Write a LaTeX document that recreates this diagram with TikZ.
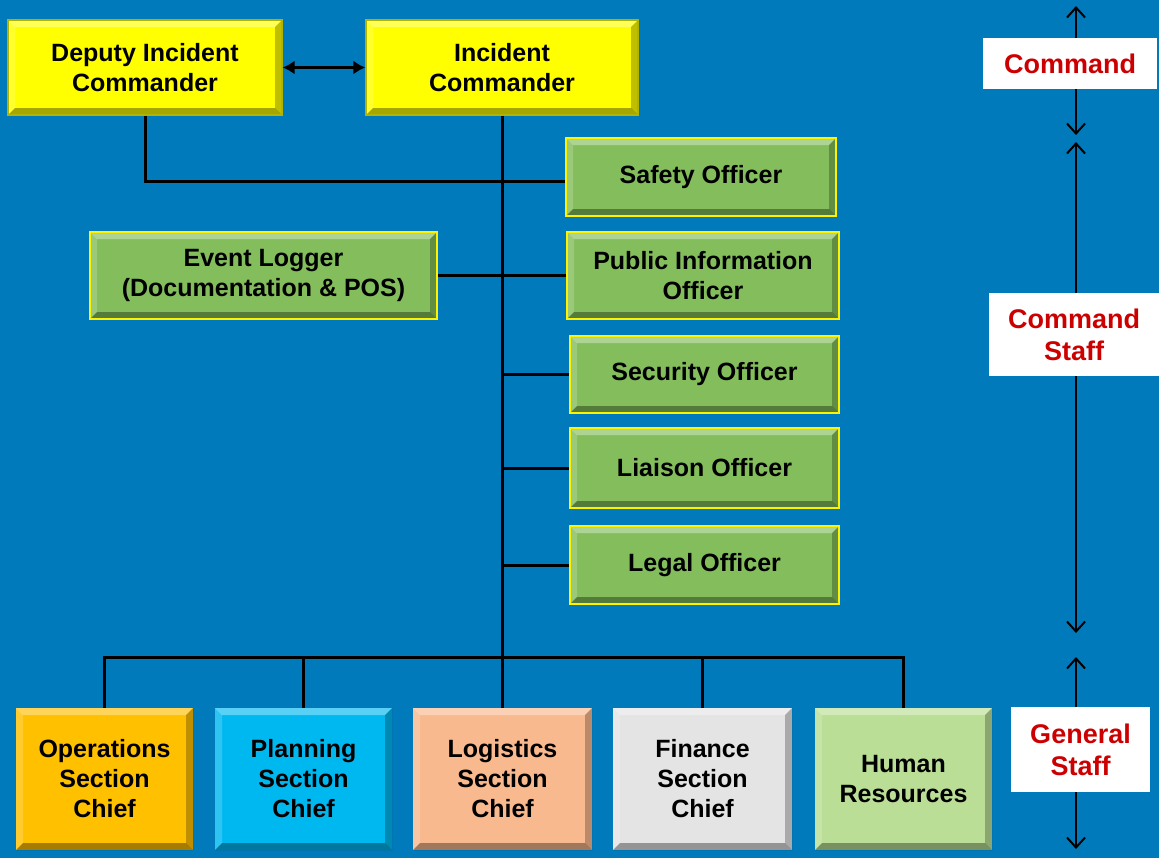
\documentclass[tikz,border=0pt]{standalone}
\usepackage{fontspec}
\setmainfont{Liberation Sans}
\usetikzlibrary{arrows.meta}
\definecolor{bg}{RGB}{0,122,186}
\definecolor{ybox}{RGB}{255,255,0}
\definecolor{gbox}{RGB}{132,190,92}
\definecolor{opsc}{RGB}{255,192,0}
\definecolor{planc}{RGB}{0,184,240}
\definecolor{logc}{RGB}{249,185,142}
\definecolor{finc}{RGB}{228,228,228}
\definecolor{hrc}{RGB}{186,222,150}
\definecolor{lblred}{RGB}{204,0,0}
\newcommand{\bvw}{3.5pt}
\tikzset{
  bevel/.style={path picture={
    \fill[white,opacity=0.35] (path picture bounding box.north west) -- (path picture bounding box.north east)
      -- ([xshift=-\bvw,yshift=-\bvw]path picture bounding box.north east) -- ([xshift=\bvw,yshift=-\bvw]path picture bounding box.north west) -- cycle;
    \fill[white,opacity=0.18] (path picture bounding box.north west) -- (path picture bounding box.south west)
      -- ([xshift=\bvw,yshift=\bvw]path picture bounding box.south west) -- ([xshift=\bvw,yshift=-\bvw]path picture bounding box.north west) -- cycle;
    \fill[black,opacity=0.25] (path picture bounding box.north east) -- (path picture bounding box.south east)
      -- ([xshift=-\bvw,yshift=\bvw]path picture bounding box.south east) -- ([xshift=-\bvw,yshift=-\bvw]path picture bounding box.north east) -- cycle;
    \fill[black,opacity=0.35] (path picture bounding box.south west) -- (path picture bounding box.south east)
      -- ([xshift=-\bvw,yshift=\bvw]path picture bounding box.south east) -- ([xshift=\bvw,yshift=\bvw]path picture bounding box.south west) -- cycle;
  }},
  box/.style={rectangle, fill=#1, bevel, inner sep=0pt, align=center, text=black,
    font=\bfseries\fontsize{12.5}{15}\selectfont},
  ybx/.style={box=ybox, draw=ybox!70!black, line width=0.6pt},
  gbx/.style={box=gbox, draw=yellow, line width=1pt},
  sbx/.style={box=#1, minimum width=88.5pt, minimum height=71pt},
  conn/.style={line width=1.5pt, black},
  lbl/.style={rectangle, fill=white, inner sep=0pt, align=center, text=lblred,
    font=\bfseries\fontsize{13.5}{16}\selectfont},
  axis/.style={line width=1pt, black, {Straight Barb[length=5pt,width=9pt]}-{Straight Barb[length=5pt,width=9pt]}}
}
\begin{document}
\begin{tikzpicture}[x=0.5pt,y=-0.5pt]
\fill[bg] (0,0) rectangle (1159,858);
\useasboundingbox (0,0) rectangle (1159,858);

% command boxes
\node[ybx, minimum width=137pt, minimum height=47.5pt] (dic) at (145,67.5) {Deputy Incident\\Commander};
\node[ybx, minimum width=136pt, minimum height=47.5pt] (ic) at (502,67.5) {Incident\\Commander};

% command staff
\node[gbx, minimum width=135pt, minimum height=39pt] (safety) at (701,177) {Safety Officer};
\node[gbx, minimum width=173.5pt, minimum height=43.5pt] (logger) at (263.5,275.5) {Event Logger\\(Documentation \& POS)};
\node[gbx, minimum width=136pt, minimum height=43.5pt] (pio) at (703,275.5) {Public Information\\Officer};
\node[gbx, minimum width=134.5pt, minimum height=38.5pt] (security) at (704.5,374.5) {Security Officer};
\node[gbx, minimum width=134.5pt, minimum height=40pt] (liaison) at (704.5,468) {Liaison Officer};
\node[gbx, minimum width=134.5pt, minimum height=39pt] (legal) at (704.5,565) {Legal Officer};

% general staff
\node[sbx=opsc] (ops) at (104.5,779) {Operations\\Section\\Chief};
\node[sbx=planc] (plan) at (303.5,779) {Planning\\Section\\Chief};
\node[sbx=logc, minimum width=89.5pt] (log) at (502.5,779) {Logistics\\Section\\Chief};
\node[sbx=finc, minimum width=89.5pt] (fin) at (702.5,779) {Finance\\Section\\Chief};
\node[sbx=hrc] (hr) at (903.5,779) {Human\\Resources};

% connectors
\draw[line width=1.2pt, {Latex[length=6pt,width=7pt]}-{Latex[length=6pt,width=7pt]}] (dic.east) -- (ic.west);
\draw[conn] (ic.south) -- (ic.south |- log.north);
\draw[conn] (dic.south) |- ([yshift=-2pt]safety.west);
\draw[conn] (logger.east) -- (pio.west);
\draw[conn] (ic.south |- security.west) -- (security.west);
\draw[conn] (ic.south |- liaison.west) -- (liaison.west);
\draw[conn] (ic.south |- legal.west) -- (legal.west);
\coordinate (bus) at (503,657);
\draw[conn] (ops.north) |- (bus) -| (hr.north);
\draw[conn] (plan.north) -- (plan.north |- bus);
\draw[conn] (fin.north) -- (fin.north |- bus);

% right axis
\coordinate (a1) at (1076,6);
\coordinate (a2) at (1076,135);
\coordinate (a3) at (1076,142);
\coordinate (a4) at (1076,633);
\coordinate (a5) at (1076,657);
\coordinate (a6) at (1076,849);
\draw[axis] (a1) -- (a2);
\draw[axis] (a3) -- (a4);
\draw[axis] (a5) -- (a6);
\node[lbl, minimum width=87pt, minimum height=25.5pt] (lcmd) at (1070,63.5) {Command};
\node[lbl, minimum width=85pt, minimum height=41.5pt] (lcs) at (1074,334.5) {Command\\Staff};
\node[lbl, minimum width=69.5pt, minimum height=42.5pt] (lgs) at (1080.5,749.5) {General\\Staff};
\end{tikzpicture}
\end{document}
